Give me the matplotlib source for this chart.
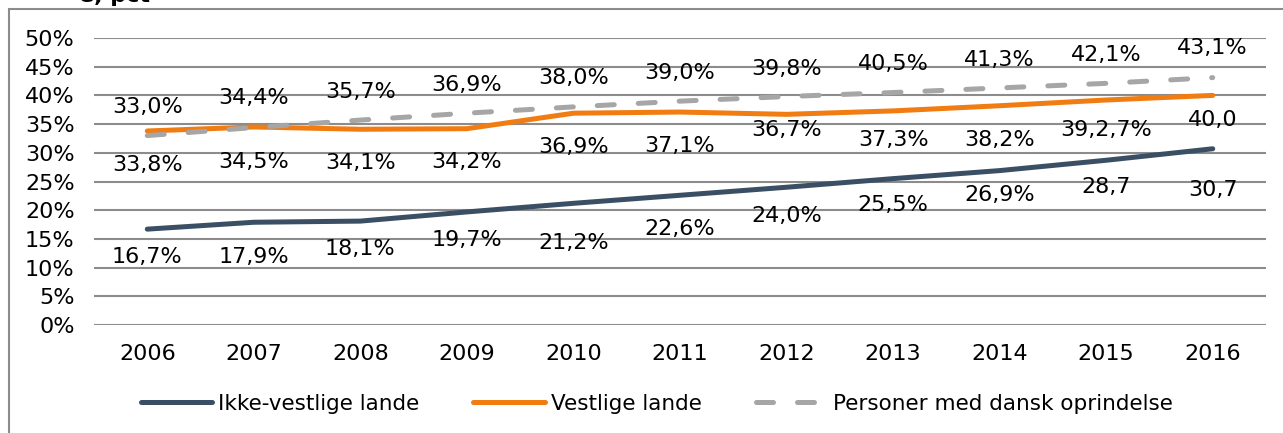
import matplotlib
matplotlib.use("Agg")
from matplotlib import pyplot as plt
from matplotlib.patches import Rectangle

# data
years = [2006, 2007, 2008, 2009, 2010, 2011, 2012, 2013, 2014, 2015, 2016]
ikke_vestlige = [16.7, 17.9, 18.1, 19.7, 21.2, 22.6, 24.0, 25.5, 26.9, 28.7, 30.7]
vestlige = [33.8, 34.5, 34.1, 34.2, 36.9, 37.1, 36.7, 37.3, 38.2, 39.2, 40.0]
dansk = [33.0, 34.4, 35.7, 36.9, 38.0, 39.0, 39.8, 40.5, 41.3, 42.1, 43.1]

# data labels exactly as printed in the chart
ikke_labels = ["16,7%", "17,9%", "18,1%", "19,7%", "21,2%", "22,6%", "24,0%",
               "25,5%", "26,9%", "28,7", "30,7"]
vest_labels = ["33,8%", "34,5%", "34,1%", "34,2%", "36,9%", "37,1%", "36,7%",
               "37,3%", "38,2%", "39,2,7%", "40,0"]
dansk_labels = ["33,0%", "34,4%", "35,7%", "36,9%", "38,0%", "39,0%", "39,8%",
                "40,5%", "41,3%", "42,1%", "43,1%"]

series_names = ["Ikke-vestlige lande", "Vestlige lande", "Personer med dansk oprindelse"]
yticks = list(range(0, 51, 5))

# label offsets (pixels, negative = below the line)
ikke_off = [-28, -35, -28, -28, -40, -34, -29, -26, -24, -27, -41]
vest_off = [-34, -35, -34, -33, -34, -34, -16, -29, -34, -30, -25]
dansk_off = [29, 30, 28, 28, 29, 28, 28, 29, 28, 28, 30]

DARK = "#3b4f64"
ORANGE = "#f07c12"
GRAY = "#a6a6a6"
GRID = "#8c8c8c"

plt.rcParams["font.family"] = ["DejaVu Sans"]

W, H = 1283, 433
fig = plt.figure(figsize=(W / 100, H / 100), dpi=100)

# outer frame of the chart (runs off the right and bottom edges)
fig.patches.append(Rectangle((9 / W, -0.1), 1.2, 1 - 9 / H + 0.1, transform=fig.transFigure,
                             fill=False, edgecolor="#8c8c8c", linewidth=1.5))
# title, cut off at the top in the original
fig.text(150 / W, 1 - 2 / H, "e, pct", ha="right", va="baseline",
         fontsize=16, fontweight="bold", color="black")

ax = fig.add_axes([94 / W, 1 - 325 / H, (1266 - 94) / W, (325 - 38) / H])
x = list(range(len(years)))

ax.plot(x, ikke_vestlige, color=DARK, lw=3.6, solid_capstyle="round",
        label=series_names[0], zorder=3)
ax.plot(x, vestlige, color=ORANGE, lw=3.6, solid_capstyle="round",
        label=series_names[1], zorder=3)
ax.plot(x, dansk, color=GRAY, lw=3.6, dashes=(3.4, 4.8), dash_capstyle="round",
        label=series_names[2], zorder=3)

for vals, labs, offs in [(ikke_vestlige, ikke_labels, ikke_off),
                         (vestlige, vest_labels, vest_off),
                         (dansk, dansk_labels, dansk_off)]:
    for i in range(len(vals)):
        ax.annotate(labs[i], (x[i], vals[i]), xytext=(0, offs[i] * 0.72),
                    textcoords="offset points", ha="center", va="center",
                    fontsize=16, zorder=4)

ax.set_xlim(-0.5, len(years) - 0.5)
ax.set_ylim(0, 50)
ax.set_yticks(yticks)
ax.set_yticklabels([f"{t}%" for t in yticks])
ax.set_xticks(x)
ax.set_xticklabels([str(y) for y in years])
ax.tick_params(axis="y", length=0, pad=14, labelsize=16)
ax.tick_params(axis="x", length=0, pad=14, labelsize=16)
ax.grid(axis="y", color=GRID, linewidth=1.5)
ax.set_axisbelow(True)
for s in ax.spines.values():
    s.set_visible(False)

fig.legend(loc="center", bbox_to_anchor=(657 / W, 1 - 404 / H), ncol=3, frameon=False,
           fontsize=15.5, handlelength=3.3, columnspacing=2.5, handletextpad=0.3)

fig.savefig("out.png", dpi=100)
